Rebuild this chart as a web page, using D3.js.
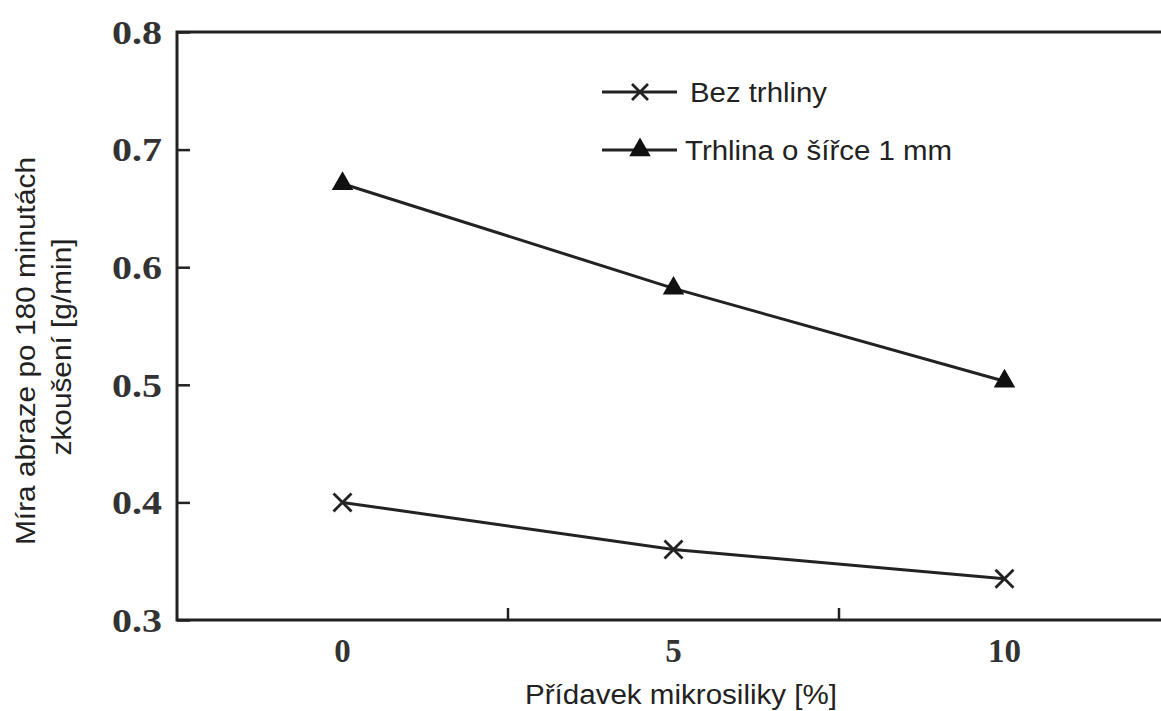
<!DOCTYPE html>
<html>
<head>
<meta charset="utf-8">
<script src="https://cdn.jsdelivr.net/npm/d3@7"></script>
<style>
  html, body { margin: 0; padding: 0; background: #fff; }
  svg { display: block; }
</style>
</head>
<body>
<svg id="chart" width="1161" height="711"></svg>
<script>
// Microsilica dosage categories (%)
const categories = ["0", "5", "10"];
// Abrasion rate after 180 minutes of testing [g/min]
const bezTrhliny = [0.400, 0.360, 0.335];
const trhlina1mm = [0.671, 0.582, 0.503];
// Axis ticks and labels
const yTicks = [0.3, 0.4, 0.5, 0.6, 0.7, 0.8];
const seriesNames = ["Bez trhliny", "Trhlina o šířce 1 mm"];
const xTitle = "Přídavek mikrosiliky [%]";
const yTitleLines = ["Míra abraze po 180 minutách", "zkoušení [g/min]"];

const svg = d3.select("#chart");
const ink = "#222";

const plotLeft = 177, plotRight = 1170, plotTop = 32, plotBottom = 620;

const x = d3.scaleBand().domain(categories).range([plotLeft, plotRight]).padding(0);
const y = d3.scaleLinear().domain([0.3, 0.8]).range([plotBottom, plotTop]);
const cx = c => x(c) + x.bandwidth() / 2;

// Frame: left axis, top and bottom edges (no right edge)
const frame = svg.append("g").attr("stroke", ink).attr("stroke-width", 3).attr("fill", "none");
frame.append("path").attr("d", `M${plotRight},${plotTop}H${plotLeft}V${plotBottom}H${plotRight}`);

// Y-axis ticks pointing inward, with serif labels
const yAxis = d3.axisLeft(y).tickValues(yTicks).tickSize(-13).tickPadding(15)
  .tickFormat(d3.format(".1f"));
const gy = svg.append("g").attr("transform", `translate(${plotLeft},0)`).call(yAxis);
gy.select(".domain").remove();
gy.selectAll(".tick line").attr("stroke", ink).attr("stroke-width", 2.5);
gy.selectAll(".tick text")
  .attr("font-family", "'Liberation Serif', 'DejaVu Serif', serif")
  .attr("font-weight", "bold")
  .attr("font-size", 33)
  .attr("fill", "#333")
  .attr("dy", "0.34em")
  .attr("textLength", 50)
  .attr("lengthAdjust", "spacingAndGlyphs");

// X-axis: ticks at category boundaries, labels at category centres
const bounds = categories.map(c => x(c)).concat([x(categories[categories.length - 1]) + x.bandwidth()]);
svg.append("g").selectAll("line").data(bounds.slice(1)).join("line")
  .attr("x1", d => d).attr("x2", d => d)
  .attr("y1", plotBottom).attr("y2", plotBottom - 12)
  .attr("stroke", ink).attr("stroke-width", 2.5);
svg.append("g").selectAll("text").data(categories).join("text")
  .attr("x", d => cx(d)).attr("y", 662)
  .attr("text-anchor", "middle")
  .attr("font-family", "'Liberation Serif', 'DejaVu Serif', serif")
  .attr("font-weight", "bold")
  .attr("font-size", 33)
  .attr("fill", "#333")
  .text(d => d);

// Axis titles
const sans = "'Liberation Sans', Arial, sans-serif";
svg.append("text")
  .attr("x", 681).attr("y", 704)
  .attr("text-anchor", "middle")
  .attr("font-family", sans).attr("font-size", 27).attr("fill", "#222")
  .attr("textLength", 312).attr("lengthAdjust", "spacingAndGlyphs")
  .text(xTitle);

const yTitle = svg.append("g");
const yTitleLens = [388, 217];
const yTitleBase = [35, 71];
const yTitleCenter = [351, 347];
yTitleLines.forEach((t, i) => {
  yTitle.append("text")
    .attr("transform", `translate(${yTitleBase[i]},${yTitleCenter[i]}) rotate(-90)`)
    .attr("text-anchor", "middle")
    .attr("font-family", sans).attr("font-size", 27).attr("fill", "#222")
    .attr("textLength", yTitleLens[i]).attr("lengthAdjust", "spacingAndGlyphs")
    .text(t);
});

// Series lines
const line = d3.line().x((d, i) => cx(categories[i])).y(d => y(d));
[bezTrhliny, trhlina1mm].forEach(s => {
  svg.append("path").datum(s)
    .attr("d", line)
    .attr("fill", "none")
    .attr("stroke", ink)
    .attr("stroke-width", 3);
});

// Markers
const crossPath = r => `M${-r},${-r}L${r},${r}M${-r},${r}L${r},${-r}`;
const triPath = d3.symbol().type(d3.symbolTriangle).size(200)();

function drawCross(g, px, py, r) {
  g.append("path").attr("d", crossPath(r))
    .attr("transform", `translate(${px},${py})`)
    .attr("stroke", ink).attr("stroke-width", 2.8).attr("fill", "none");
}
function drawTri(g, px, py) {
  g.append("path").attr("d", triPath)
    .attr("transform", `translate(${px},${py})`)
    .attr("fill", "#111");
}

const marks = svg.append("g");
bezTrhliny.forEach((v, i) => drawCross(marks, cx(categories[i]), y(v), 9));
trhlina1mm.forEach((v, i) => drawTri(marks, cx(categories[i]), y(v)));

// Legend
const legend = svg.append("g");
const legendRows = [
  { name: seriesNames[0], yy: 92, draw: (g, px, py) => drawCross(g, px, py, 8), len: 137, tx: 690 },
  { name: seriesNames[1], yy: 150, draw: drawTri, len: 267, tx: 685 }
];
legendRows.forEach(r => {
  legend.append("line")
    .attr("x1", 602).attr("x2", 677).attr("y1", r.yy).attr("y2", r.yy)
    .attr("stroke", ink).attr("stroke-width", 3);
  r.draw(legend, 640, r.yy);
  legend.append("text")
    .attr("x", r.tx).attr("y", r.yy + 9.5)
    .attr("font-family", sans).attr("font-size", 27).attr("fill", "#222")
    .attr("textLength", r.len).attr("lengthAdjust", "spacingAndGlyphs")
    .text(r.name);
});
</script>
</body>
</html>
